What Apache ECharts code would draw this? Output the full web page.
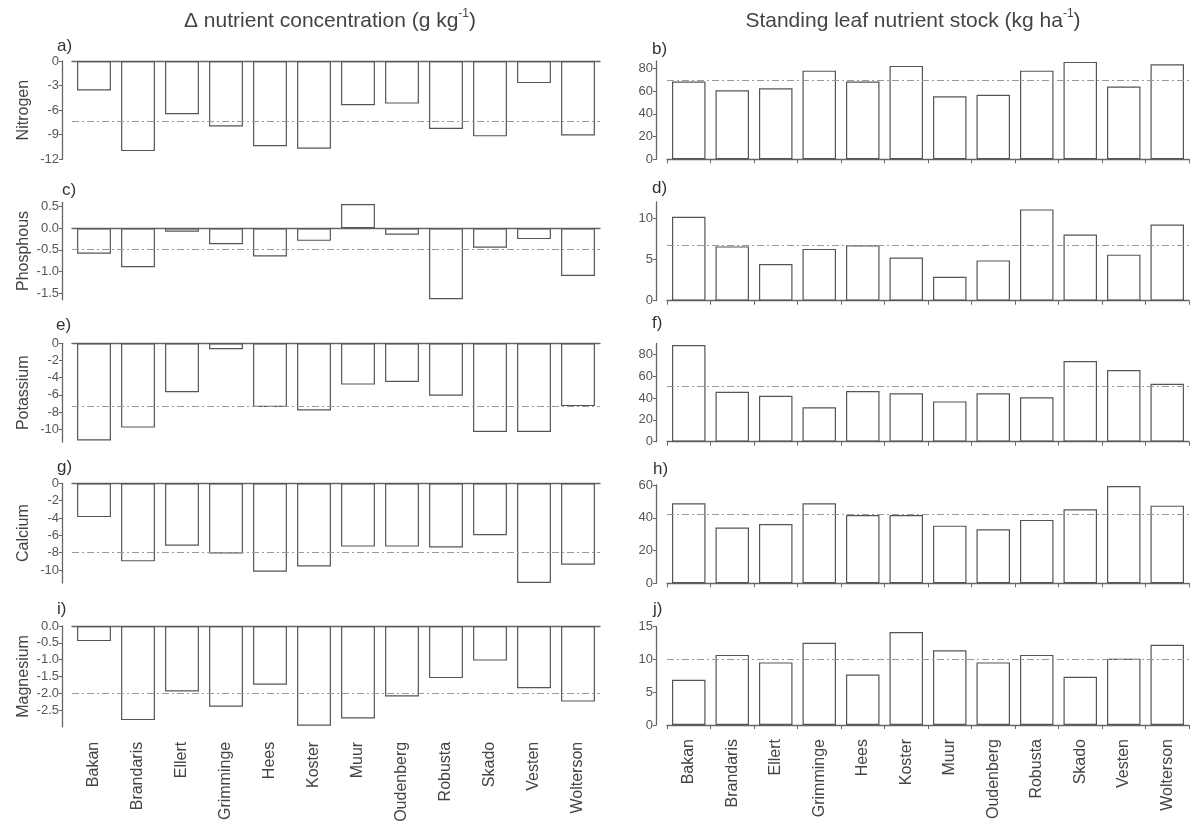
<!DOCTYPE html>
<html>
<head>
<meta charset="utf-8">
<script src="https://cdn.jsdelivr.net/npm/echarts@6/dist/echarts.min.js"></script>
<style>html,body{margin:0;padding:0;background:#fff}#c{width:1192px;height:830px}</style>
</head>
<body>
<div id="c"></div>
<script>
const categories = ['Bakan','Brandaris','Ellert','Grimminge','Hees','Koster','Muur','Oudenberg','Robusta','Skado','Vesten','Wolterson'];
const nutrients = ['Nitrogen','Phosphous','Potassium','Calcium','Magnesium'];

// Δ nutrient concentration (g kg-1)
const nitrogenConc   = [-3.6,-11.0,-6.5,-8.0,-10.4,-10.7,-5.4,-5.2,-8.3,-9.2,-2.7,-9.1];
const phosphorusConc = [-0.59,-0.90,-0.08,-0.37,-0.65,-0.29,0.56,-0.15,-1.64,-0.45,-0.25,-1.10];
const potassiumConc  = [-11.3,-9.8,-5.7,-0.7,-7.4,-7.8,-4.8,-4.5,-6.1,-10.3,-10.3,-7.3];
const calciumConc    = [-3.9,-9.0,-7.2,-8.1,-10.2,-9.6,-7.3,-7.3,-7.4,-6.0,-11.5,-9.4];
const magnesiumConc  = [-0.45,-2.80,-1.95,-2.40,-1.75,-2.97,-2.75,-2.10,-1.55,-1.03,-1.85,-2.25];
const concMeans = [-7.4,-0.48,-7.3,-8.0,-2.0];

// Standing leaf nutrient stock (kg ha-1)
const nitrogenStock   = [68.3,60.7,62.4,77.9,68.3,82.1,55.4,56.8,77.9,85.6,63.9,83.5];
const phosphorusStock = [10.2,6.6,4.45,6.3,6.75,5.25,2.9,4.9,11.1,8.05,5.6,9.25];
const potassiumStock  = [88.5,45.8,42.1,31.5,46.4,44.3,36.9,44.3,40.6,73.9,65.6,53.1];
const calciumStock    = [48.8,34.0,36.2,48.8,41.7,41.7,35.2,33.0,38.7,45.2,59.4,47.4];
const magnesiumStock  = [6.9,10.7,9.55,12.55,7.7,14.2,11.4,9.55,10.7,7.35,10.1,12.25];
const stockMeans = [69.7,6.8,51.0,42.3,10.1];

// tick labels
const concTicks  = [[0,-3,-6,-9,-12],[0.5,0,-0.5,-1,-1.5],[0,-2,-4,-6,-8,-10],[0,-2,-4,-6,-8,-10],[0,-0.5,-1,-1.5,-2,-2.5]];
const concDecimals = [0,1,0,0,1];
const concRange  = [[-12,0],[-1.65,0.6],[-11.5,0],[-11.5,0],[-3,0]];
const stockTicks = [[0,20,40,60,80],[0,5,10],[0,20,40,60,80],[0,20,40,60],[0,5,10,15]];
const stockRange = [[0,86.4],[0,12],[0,90],[0,60],[0,15]];

const panelLettersLeft  = ['a)','c)','e)','g)','i)'];
const panelLettersRight = ['b)','d)','f)','h)','j)'];

const concData  = [nitrogenConc, phosphorusConc, potassiumConc, calciumConc, magnesiumConc];
const stockData = [nitrogenStock, phosphorusStock, potassiumStock, calciumStock, magnesiumStock];

// layout
const leftTops = [61, 202.3, 343.3, 483.3, 626];
const leftHeights = [98.3, 97.4, 98.9, 99.7, 100.8];
const rightTops = [61, 202, 343.4, 485, 626.7];
const rightHeights = [98.3, 98.7, 98.3, 98.3, 98.3];
const letterPosL = [[57,38],[62,182],[56,317],[57,459],[57,601]];
const letterPosR = [[652,41],[652,180],[652,315],[653,461],[653,601]];

const FONT = "'Liberation Sans', Arial, sans-serif";
const AX = '#666';
const grids = [], xAxes = [], yAxes = [], series = [], graphics = [];

function barSeries(xi, yi, data, mean){
  return {
    type:'bar', xAxisIndex:xi, yAxisIndex:yi, data:data,
    barCategoryGap:'23%',
    itemStyle:{color:'rgba(255,255,255,0)', borderColor:'#555', borderWidth:1.2},
    silent:true,
    markLine:{silent:true, symbol:'none', label:{show:false},
      lineStyle:{type:[7,3,2,3], color:'#9a9a9a', width:1},
      data:[{yAxis:mean}]}
  };
}

for(let k=0;k<5;k++){
  const gL = grids.length;
  grids.push({left:72, top:leftTops[k], width:528, height:leftHeights[k]});
  const xL = xAxes.length;
  xAxes.push({type:'category', gridIndex:gL, data:categories, position:'top',
    axisLine:{show:true, onZero:true, lineStyle:{color:AX, width:1.3}},
    axisTick:{show:false}, axisLabel:{show:false}});
  if(k===4){
    xAxes.push({type:'category', gridIndex:gL, data:categories, position:'bottom',
      axisLine:{show:false, onZero:false}, axisTick:{show:false},
      axisLabel:{show:true, rotate:90, interval:0, fontSize:16, color:'#444', margin:15, fontFamily:FONT}});
  }
  const yL = yAxes.length;
  const dec = concDecimals[k];
  yAxes.push({type:'value', gridIndex:gL, min:concRange[k][0], max:concRange[k][1], offset:10,
    name:nutrients[k], nameLocation:'middle', nameGap:30,
    nameTextStyle:{fontSize:16, color:'#444', fontFamily:FONT},
    axisLine:{show:true, lineStyle:{color:AX, width:1.3}},
    axisTick:{show:true, length:3, customValues:concTicks[k], lineStyle:{color:AX}},
    axisLabel:{customValues:concTicks[k], fontSize:13, color:'#555', margin:3, fontFamily:FONT,
      formatter:(v)=>Number(v).toFixed(dec)},
    splitLine:{show:false}});
  series.push(barSeries(xL, yL, concData[k], concMeans[k]));

  const gR = grids.length;
  grids.push({left:667, top:rightTops[k], width:522, height:rightHeights[k]});
  const xR = xAxes.length;
  xAxes.push({type:'category', gridIndex:gR, data:categories, position:'bottom',
    axisLine:{show:true, onZero:true, lineStyle:{color:AX, width:1.3}},
    axisTick:{show:true, length:4, lineStyle:{color:AX}},
    axisLabel:{show:k===4, rotate:90, interval:0, fontSize:16, color:'#444', margin:14, fontFamily:FONT}});
  const yR = yAxes.length;
  yAxes.push({type:'value', gridIndex:gR, min:stockRange[k][0], max:stockRange[k][1], offset:11,
    axisLine:{show:true, lineStyle:{color:AX, width:1.3}},
    axisTick:{show:true, length:3, customValues:stockTicks[k], lineStyle:{color:AX}},
    axisLabel:{customValues:stockTicks[k], fontSize:13, color:'#555', margin:3, fontFamily:FONT},
    splitLine:{show:false}});
  series.push(barSeries(xR, yR, stockData[k], stockMeans[k]));

  graphics.push({type:'text', left:letterPosL[k][0], top:letterPosL[k][1],
    style:{text:panelLettersLeft[k], fontSize:17, fill:'#333', fontFamily:FONT}});
  graphics.push({type:'text', left:letterPosR[k][0], top:letterPosR[k][1],
    style:{text:panelLettersRight[k], fontSize:17, fill:'#333', fontFamily:FONT}});
}

const richTitle = {
  t:{fontSize:21, fill:'#444', color:'#444', fontFamily:FONT, lineHeight:26},
  s:{fontSize:12, fill:'#444', color:'#444', fontFamily:FONT, lineHeight:12, verticalAlign:'top'}
};
graphics.push({type:'text', x:330, y:21,
  style:{text:'{t|\u0394 nutrient concentration (g kg}{s|-1}{t|)}', rich:richTitle,
    align:'center', verticalAlign:'middle', textAlign:'center', textVerticalAlign:'middle'}});
graphics.push({type:'text', x:913, y:21,
  style:{text:'{t|Standing leaf nutrient stock (kg ha}{s|-1}{t|)}', rich:richTitle,
    align:'center', verticalAlign:'middle', textAlign:'center', textVerticalAlign:'middle'}});

const chart = echarts.init(document.getElementById('c'), null, {renderer:'canvas'});
chart.setOption({
  animation:false,
  backgroundColor:'#fff',
  textStyle:{fontFamily:FONT},
  grid:grids, xAxis:xAxes, yAxis:yAxes, series:series, graphic:graphics
});
</script>
</body>
</html>
